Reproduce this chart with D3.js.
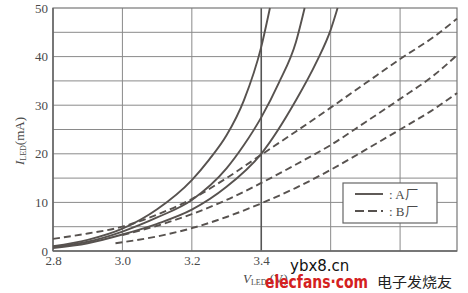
<!DOCTYPE html>
<meta charset="utf-8">
<script src="https://d3js.org/d3.v7.min.js"></script>
<style>
  body { margin: 0; background: #fff; }
</style>
<div id="chart"></div>
<script>
// Voltage (V) / current (mA)
var a1_v = [2.8, 2.9, 3.0, 3.1, 3.2, 3.25, 3.3, 3.35, 3.4, 3.425];
var a1_i = [1.0, 2.3, 4.6, 8.6, 14.6, 18.8, 23.8, 31.0, 42.0, 50];
var a2_v = [2.8, 2.9, 3.0, 3.1, 3.2, 3.3, 3.35, 3.4, 3.45, 3.5, 3.525];
var a2_i = [0.8, 1.9, 4.0, 6.9, 10.5, 17.0, 21.8, 27.5, 34.5, 43, 50];
var a3_v = [2.8, 2.9, 3.0, 3.1, 3.2, 3.3, 3.4, 3.5, 3.56, 3.6, 3.62];
var a3_i = [0.6, 1.6, 3.4, 5.6, 8.5, 13.2, 20, 31, 39, 45.5, 50];
var b1_v = [2.8, 2.9, 3.0, 3.1, 3.2, 3.3, 3.4, 3.5, 3.6, 3.7, 3.8, 3.9, 3.964];
var b1_i = [2.5, 3.6, 5.0, 7.5, 10.7, 15, 19.8, 24.6, 29.5, 34.5, 39.5, 44.2, 47.8];
var b2_v = [3.0, 3.1, 3.2, 3.3, 3.4, 3.5, 3.6, 3.7, 3.8, 3.9, 3.964];
var b2_i = [3.3, 5.2, 7.6, 10.5, 14, 17.8, 21.8, 26.5, 31.3, 36.3, 40.3];
var b3_v = [2.98, 3.1, 3.2, 3.3, 3.4, 3.5, 3.6, 3.7, 3.8, 3.9, 3.964];
var b3_i = [1.6, 3.0, 4.7, 7.0, 9.8, 13, 16.7, 20.8, 25, 29.3, 32.5];

var x_ticks = [2.8, 3.0, 3.2, 3.4];
var x_grid = [3.0, 3.2, 3.4, 3.6, 3.8];
var y_ticks = [0, 10, 20, 30, 40, 50];
var y_grid = [5, 10, 15, 20, 25, 30, 35, 40, 45];

var width = 468, height = 293;
var m_left = 53, m_right = 457, m_top = 8, m_bottom = 251;
var serif = "Liberation Serif, DejaVu Serif, serif";
var ink = "#57524f";

var svg = d3.select("#chart").append("svg")
  .attr("width", width)
  .attr("height", height);

var x = d3.scaleLinear().domain([2.8, 3.964]).range([m_left, m_right]);
var y = d3.scaleLinear().domain([0, 50]).range([m_bottom, m_top]);

// grid
svg.selectAll(".hg").data(y_grid).enter().append("line")
  .attr("x1", m_left).attr("x2", m_right)
  .attr("y1", d => y(d)).attr("y2", d => y(d))
  .attr("stroke", "#8a8a8a").attr("stroke-width", 1);
svg.selectAll(".vg").data(x_grid).enter().append("line")
  .attr("y1", m_top).attr("y2", m_bottom)
  .attr("x1", d => x(d)).attr("x2", d => x(d))
  .attr("stroke", d => d == 3.4 ? "#555" : "#8a8a8a")
  .attr("stroke-width", d => d == 3.4 ? 1.6 : 1);

// frame
svg.append("rect")
  .attr("x", m_left).attr("y", m_top)
  .attr("width", m_right - m_left).attr("height", m_bottom - m_top)
  .attr("fill", "none").attr("stroke", "#777").attr("stroke-width", 1.2);
svg.append("line")
  .attr("x1", m_left).attr("x2", m_right).attr("y1", m_bottom).attr("y2", m_bottom)
  .attr("stroke", "#666").attr("stroke-width", 1.5);
svg.append("line")
  .attr("x1", m_left).attr("x2", m_left).attr("y1", m_top).attr("y2", m_bottom)
  .attr("stroke", "#666").attr("stroke-width", 1.5);

// tick labels
var xAxis = svg.append("g")
  .attr("transform", "translate(0," + m_bottom + ")")
  .call(d3.axisBottom(x).tickValues(x_ticks).tickSize(0).tickPadding(5).tickFormat(d3.format(".1f")));
var yAxis = svg.append("g")
  .attr("transform", "translate(" + m_left + ",0)")
  .call(d3.axisLeft(y).tickValues(y_ticks).tickSize(0).tickPadding(5));
[xAxis, yAxis].forEach(g => {
  g.select(".domain").remove();
  g.selectAll("text")
    .attr("font-family", serif)
    .attr("font-size", 13)
    .attr("fill", "#4a4a4a");
});

// curves
var line = d3.line()
  .x(d => x(d[0]))
  .y(d => y(d[1]))
  .curve(d3.curveMonotoneX);
var zip = (vs, is) => vs.map((v, k) => [v, is[k]]);
var series = [
  {pts: zip(a1_v, a1_i), dash: null},
  {pts: zip(a2_v, a2_i), dash: null},
  {pts: zip(a3_v, a3_i), dash: null},
  {pts: zip(b1_v, b1_i), dash: "7,4"},
  {pts: zip(b2_v, b2_i), dash: "7,4"},
  {pts: zip(b3_v, b3_i), dash: "7,4"}
];
svg.selectAll(".curve").data(series).enter().append("path")
  .attr("d", d => line(d.pts))
  .attr("fill", "none")
  .attr("stroke", ink)
  .attr("stroke-width", 1.9)
  .attr("stroke-dasharray", d => d.dash);

// legend
var lg = svg.append("g");
lg.append("rect")
  .attr("x", 343).attr("y", 183).attr("width", 94).attr("height", 40)
  .attr("fill", "#fff").attr("stroke", "#666").attr("stroke-width", 1.2);
lg.append("line").attr("x1", 355).attr("x2", 383).attr("y1", 194).attr("y2", 194)
  .attr("stroke", ink).attr("stroke-width", 1.9);
lg.append("line").attr("x1", 355).attr("x2", 383).attr("y1", 211).attr("y2", 211)
  .attr("stroke", ink).attr("stroke-width", 1.9).attr("stroke-dasharray", "9,4");
lg.append("text").attr("x", 389).attr("y", 199).attr("font-family", serif)
  .attr("font-size", 13).attr("fill", "#4a4a4a").text(": A厂");
lg.append("text").attr("x", 389).attr("y", 216).attr("font-family", serif)
  .attr("font-size", 13).attr("fill", "#4a4a4a").text(": B厂");

// axis titles
var yt = svg.append("text")
  .attr("transform", "translate(24,141) rotate(-90)")
  .attr("text-anchor", "middle")
  .attr("font-family", serif).attr("fill", "#4a4a4a")
  .attr("font-size", 13);
yt.append("tspan").attr("font-style", "italic").text("I");
yt.append("tspan").attr("font-size", 8).attr("dy", 2).text("LED");
yt.append("tspan").attr("dy", -2).text("(mA)");

var xt = svg.append("text")
  .attr("x", 243).attr("y", 283)
  .attr("font-family", serif).attr("fill", "#4a4a4a")
  .attr("font-size", 13);
xt.append("tspan").attr("font-style", "italic").text("V");
xt.append("tspan").attr("font-size", 8).attr("dy", 2).text("LED");
xt.append("tspan").attr("dy", -2).text(" (V)");

// watermark
svg.append("text").attr("x", 290).attr("y", 271)
  .attr("font-family", "DejaVu Sans, sans-serif").attr("font-size", 15)
  .attr("fill", "#111").text("ybx8.cn");
svg.append("text").attr("x", 265).attr("y", 288)
  .attr("font-family", "DejaVu Sans, sans-serif").attr("font-size", 17).attr("font-weight", "bold")
  .attr("textLength", 103).attr("lengthAdjust", "spacingAndGlyphs")
  .attr("fill", "#d42020").text("elecfans·com");
svg.append("text").attr("x", 377).attr("y", 287)
  .attr("font-family", "Noto Sans CJK SC, sans-serif").attr("font-size", 14)
  .attr("textLength", 75).attr("lengthAdjust", "spacingAndGlyphs")
  .attr("fill", "#222").text("电子发烧友");
</script>
